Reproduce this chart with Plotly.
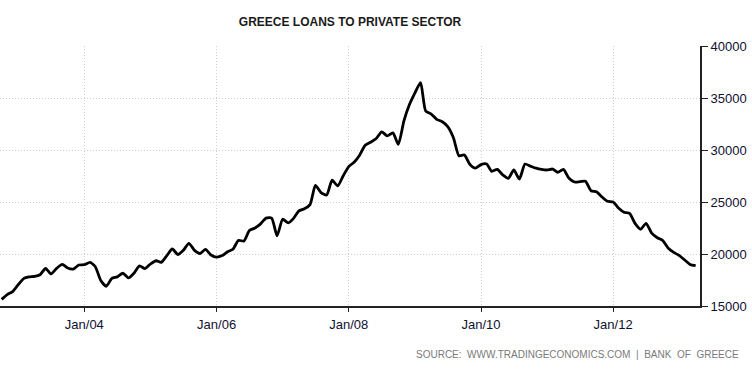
import plotly.graph_objects as go
import pandas as pd

# Monthly values, Oct 2002 .. Apr 2013 (EUR million)
start_month = "2002-10-01"
loans = [
    15640, 16100, 16380,                                     # 2002 Oct-Dec
    17050, 17650, 17800, 17850, 18000, 18620, 18080, 18620, 19000, 18650, 18550, 18940,  # 2003
    18970, 19200, 18800, 17450, 16900, 17650, 17800, 18150, 17700, 18150, 18850, 18600,  # 2004
    19050, 19350, 19200, 19850, 20480, 19950, 20350, 21030, 20350, 20050, 20450, 19900,  # 2005
    19700, 19850, 20200, 20450, 21300, 21250, 22250, 22500, 22900, 23450, 23450, 21750,  # 2006
    23340, 23000, 23400, 24150, 24350, 24750, 26600, 25900, 25670, 27100, 26550, 27500,  # 2007
    28400, 28850, 29500, 30450, 30750, 31100, 31750, 31350, 31650, 30550, 32800, 34350,  # 2008
    35500, 36470, 33750, 33460, 32950, 32720, 32250, 31200, 29450, 29520, 28600, 28250,  # 2009
    28600, 28650, 27950, 28140, 27600, 27280, 28080, 27210, 28650, 28450, 28250, 28130,  # 2010
    28080, 28170, 27860, 28140, 27300, 26920, 26950, 27000, 26080, 25980, 25480, 25080,  # 2011
    25000, 24400, 24020, 23900, 22950, 22380, 22950, 22000, 21560, 21300, 20550, 20150,  # 2012
    19850, 19400, 19000, 18880,                              # 2013 Jan-Apr
]
dates = pd.date_range(start_month, periods=len(loans), freq="MS")

x_ticks = ["2004-01-01", "2006-01-01", "2008-01-01", "2010-01-01", "2012-01-01"]
x_tick_labels = ["Jan/04", "Jan/06", "Jan/08", "Jan/10", "Jan/12"]
y_ticks = [15000, 20000, 25000, 30000, 35000, 40000]
y_tick_labels = [str(v) for v in y_ticks]

title_text = "GREECE LOANS TO PRIVATE SECTOR"
source_text = "SOURCE:  WWW.TRADINGECONOMICS.COM  |  BANK  OF  GREECE"

fig = go.Figure()
fig.add_trace(go.Scatter(
    x=dates, y=loans, mode="lines",
    line=dict(color="#000000", width=2.8, shape="spline", smoothing=0.6),
    hoverinfo="skip", showlegend=False,
))

grid_style = dict(showgrid=True, gridcolor="#cfcfcf", griddash="1px,2px", gridwidth=1)

fig.update_layout(
    width=752, height=370,
    margin=dict(l=0, r=52, t=46, b=64),
    paper_bgcolor="white", plot_bgcolor="white",
    title=dict(text="<b>" + title_text + "</b>", x=0.4655, xanchor="center", y=0.94, yanchor="middle",
               font=dict(family="Liberation Sans", size=12, color="#1a1a1a")),
    xaxis=dict(
        type="date",
        range=["2002-09-22", "2013-04-25"],
        tickvals=x_ticks, ticktext=x_tick_labels,
        **grid_style,
        showline=True, linecolor="#222222", linewidth=2,
        ticks="outside", ticklen=4, tickcolor="#222222", tickwidth=1,
        ticklabelstandoff=1,
        tickfont=dict(family="Liberation Sans", size=13, color="#101030"),
        zeroline=False, fixedrange=True,
    ),
    yaxis=dict(
        side="right",
        range=[15000, 40000],
        tickvals=y_ticks, ticktext=y_tick_labels,
        **grid_style,
        showline=True, linecolor="#222222", linewidth=2,
        ticks="outside", ticklen=6, tickcolor="#222222", tickwidth=1,
        tickfont=dict(family="Liberation Sans", size=13, color="#101030"),
        zeroline=False, fixedrange=True,
    ),
    annotations=[dict(
        text=source_text, xref="paper", yref="paper",
        x=1.0586, y=-0.158, xanchor="right", yanchor="top", showarrow=False,
        font=dict(family="Liberation Sans", size=10, color="#7a7a7a"),
    )],
)

fig.write_html("out.html", config={"displayModeBar": False},
               post_script="document.body.style.margin='0';")
